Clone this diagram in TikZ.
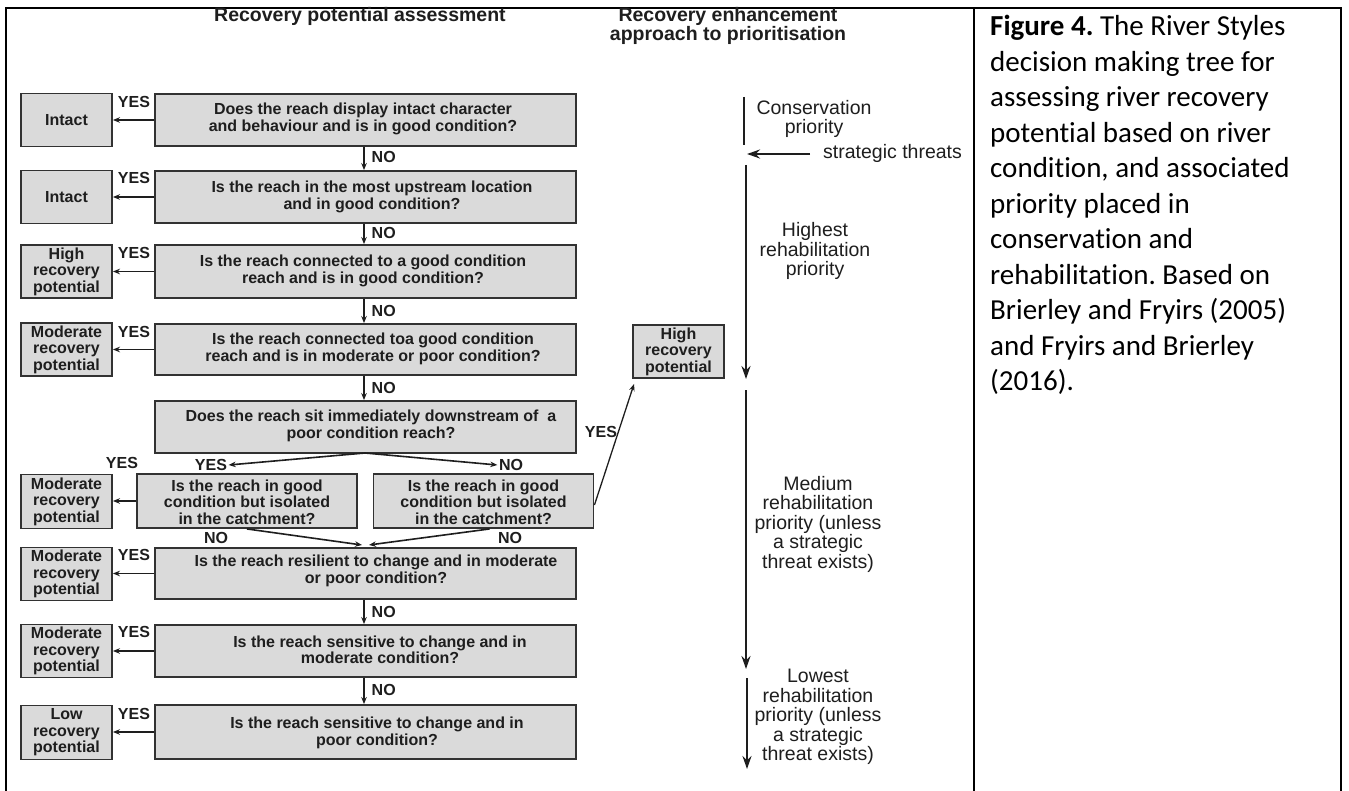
\documentclass[tikz,border=0pt]{standalone}
\usepackage{fontspec}
\setmainfont{Liberation Sans}
\newfontfamily\capfont[Ligatures=NoCommon]{Carlito}
\usetikzlibrary{arrows.meta}
\definecolor{boxfill}{RGB}{218,218,218}
\definecolor{boxline}{RGB}{50,50,50}
\definecolor{ink}{RGB}{30,30,30}
\frenchspacing
\begin{document}
\begin{tikzpicture}[x=1pt,y=-1pt,
  box/.style={draw=boxline, line width=1.9pt, fill=boxfill, inner sep=0pt},
  qbox/.style={box, minimum width=421pt, minimum height=52pt},
  sbox/.style={box, minimum width=220pt, minimum height=54pt},
  obox/.style={box, minimum width=91pt, minimum height=53pt, align=center, font=\bfseries\fontsize{16}{16.5}\selectfont, text=ink},
  qtext/.style={align=center, font=\bfseries\fontsize{16}{16.5}\selectfont, text=ink, inner sep=0pt},
  lbl/.style={font=\bfseries\fontsize{16}{16}\selectfont, text=ink, inner sep=1.5pt},
  arr/.style={draw=ink, line width=1.6pt, -{Stealth[length=7pt,width=5.5pt]}},
  bigarr/.style={draw=ink, line width=2.4pt, -{Stealth[length=13pt,width=9pt]}},
  side/.style={align=center, font=\fontsize{19.5}{19.5}\selectfont, text=ink, inner sep=0pt},
  hdr/.style={align=center, font=\bfseries\fontsize{19.5}{18.5}\selectfont, text=ink, inner sep=0pt},
  frameline/.style={draw=black, line width=2pt}
]
\useasboundingbox (0,0) rectangle (1349,791);
\fill[white] (0,0) rectangle (1349,791);

% table frame
\coordinate (tl) at (6,8);
\coordinate (tr) at (1341,8);
\coordinate (bl) at (6,791);
\coordinate (br) at (1341,791);
\coordinate (dt) at (974,8);
\coordinate (db) at (974,791);
\draw[frameline] (bl) -- (tl) -- (tr) -- (br);
\draw[frameline] (dt) -- (db);

% headers
\node[hdr] (h1) at (360,16) {Recovery potential assessment};
\node[hdr] (h2) at (728,26) {Recovery enhancement\\approach to prioritisation};

% question boxes
\node[qbox] (q1) at (365.5,120) {};
\node[qtext] (q1t) at (363,119) {Does the reach display intact character\\and behaviour and is in good condition?};
\node[qbox] (q2) at (365.5,197) {};
\node[qtext] (q2t) at (372,197) {Is the reach in the most upstream location\\and in good condition?};
\node[qbox, minimum height=53pt] (q3) at (365.5,271.5) {};
\node[qtext] (q3t) at (363,271) {Is the reach connected to a good condition\\reach and is in good condition?};
\node[qbox, minimum height=51pt] (q4) at (365.5,349.5) {};
\node[qtext] (q4t) at (373,349) {Is the reach connected toa good condition\\reach and is in moderate or poor condition?};
\node[qbox] (q5) at (365.5,427) {};
\node[qtext] (q5t) at (371,426) {Does the reach sit immediately downstream of\ \ a\\poor condition reach?};
\node[sbox] (q6a) at (247,501) {};
\node[qtext] (q6at) at (247,502) {Is the reach in good\\condition but isolated\\in the catchment?};
\node[sbox] (q6b) at (483.5,501) {};
\node[qtext] (q6bt) at (483.5,502) {Is the reach in good\\condition but isolated\\in the catchment?};
\node[qbox, minimum height=51pt] (q7) at (365.5,573.5) {};
\node[qtext] (q7t) at (376,571) {Is the reach resilient to change and in moderate\\or poor condition?};
\node[qbox] (q8) at (365.5,651) {};
\node[qtext] (q8t) at (380,650) {Is the reach sensitive to change and in\\moderate condition?};
\node[qbox, minimum height=54pt] (q9) at (365.5,732) {};
\node[qtext] (q9t) at (377,733) {Is the reach sensitive to change and in\\poor condition?};

% outcome boxes
\node[obox] (o1) at (66.5,120) {Intact};
\node[obox] (o2) at (66.5,197) {Intact};
\node[obox] (o3) at (66.5,271.5) {High\\recovery\\potential};
\node[obox] (o4) at (66.5,349.5) {Moderate\\recovery\\potential};
\node[obox, minimum height=54pt] (o6) at (66.5,501.5) {Moderate\\recovery\\potential};
\node[obox] (o7) at (66.5,574) {Moderate\\recovery\\potential};
\node[obox] (o8) at (66.5,651) {Moderate\\recovery\\potential};
\node[obox, minimum height=54pt] (o9) at (66.5,732.5) {Low\\recovery\\potential};
\node[obox] (hrp) at (678.5,351.5) {High\\recovery\\potential};

% YES arrows to the left
\draw[arr] (q1.west) -- (o1.east);
\draw[arr] (q2.west) -- (o2.east);
\draw[arr] (q3.west) -- (o3.east);
\draw[arr] (q4.west) -- (o4.east);
\draw[arr] (q6a.west) -- (q6a.west -| o6.east);
\draw[arr] (q7.west) -- (q7.west -| o7.east);
\draw[arr] (q8.west) -- (o8.east);
\draw[arr] (q9.west) -- (q9.west -| o9.east);

\node[lbl] (y1) at (134,102) {YES};
\node[lbl] (y2) at (134,178) {YES};
\node[lbl] (y3) at (134,253) {YES};
\node[lbl] (y4) at (134,332) {YES};
\node[lbl] (y6) at (122,463) {YES};
\node[lbl] (y7) at (134,555) {YES};
\node[lbl] (y8) at (134,632) {YES};
\node[lbl] (y9) at (134,714) {YES};

% NO arrows downward
\coordinate (nox) at (364,0);
\draw[arr] (q1.south -| nox) -- (q2.north -| nox);
\draw[arr] (q2.south -| nox) -- (q3.north -| nox);
\draw[arr] (q3.south -| nox) -- (q4.north -| nox);
\draw[arr] (q4.south -| nox) -- (q5.north -| nox);
\draw[arr] (q7.south -| nox) -- (q8.north -| nox);
\draw[arr] (q8.south -| nox) -- (q9.north -| nox);
\node[lbl, anchor=west] (n1) at (370,157) {NO};
\node[lbl, anchor=west] (n2) at (370,233) {NO};
\node[lbl, anchor=west] (n3) at (370,311) {NO};
\node[lbl, anchor=west] (n4) at (370,388) {NO};
\node[lbl, anchor=west] (n7) at (370,612) {NO};
\node[lbl, anchor=west] (n8) at (370,690) {NO};

% split below q5
\coordinate (split) at (365,453);
\node[lbl] (sy) at (211,465) {YES};
\node[lbl] (sn) at (511,465) {NO};
\draw[arr] (split) -- (sy.east);
\draw[arr] (split) -- (sn.west);

% merge into q7
\coordinate (mL) at (362,545);
\coordinate (mR) at (369,545);
\draw[arr] (q6a.south) -- (mL);
\draw[arr] ([xshift=6pt]q6b.south) -- (mR);
\node[lbl] (nL) at (216,538) {NO};
\node[lbl] (nR) at (510,538) {NO};

% YES to high recovery potential
\node[lbl] (yr) at (601,432) {YES};
\draw[draw=ink, line width=1.3pt, -{Stealth[length=7pt,width=5.5pt]}] ([yshift=-4pt]q6b.east) -- ([shift={(2,5)}]hrp.south west);

% right panel
\coordinate (c1) at (744,97);
\coordinate (c2) at (744,145);
\draw[draw=ink, line width=2.6pt] (c1) -- (c2);
\node[side, font=\fontsize{19.5}{18.5}\selectfont] (cons) at (814,119) {Conservation\\priority};
\coordinate (st1) at (810,154);
\coordinate (st2) at (747,154);
\draw[bigarr] (st1) -- (st2);
\node[side, anchor=west] (strat) at (823,153) {strategic threats};

\coordinate (a1) at (746,165);
\coordinate (a2) at (746,379);
\draw[bigarr] (a1) -- (a2);
\node[side] (high) at (815,251) {Highest\\rehabilitation\\priority};

\coordinate (b1) at (746,390);
\coordinate (b2) at (746,669);
\draw[bigarr] (b1) -- (b2);
\node[side] (med) at (818,524) {Medium\\rehabilitation\\priority (unless\\a strategic\\threat exists)};

\coordinate (l1) at (747,678);
\coordinate (l2) at (747,769);
\draw[bigarr] (l1) -- (l2);
\node[side] (low) at (818,717) {Lowest\\rehabilitation\\priority (unless\\a strategic\\threat exists)};

% caption
\node[anchor=north west, inner sep=0pt, align=left, font=\capfont\fontsize{29}{35.5}\selectfont, text=black] (cap) at (990,15)
{\textbf{Figure 4.} The River Styles\\decision making tree for\\assessing river recovery\\potential based on river\\condition, and associated\\priority placed in\\conservation and\\rehabilitation. Based on\\Brierley and Fryirs (2005)\\and Fryirs and Brierley\\(2016).};
\end{tikzpicture}
\end{document}
